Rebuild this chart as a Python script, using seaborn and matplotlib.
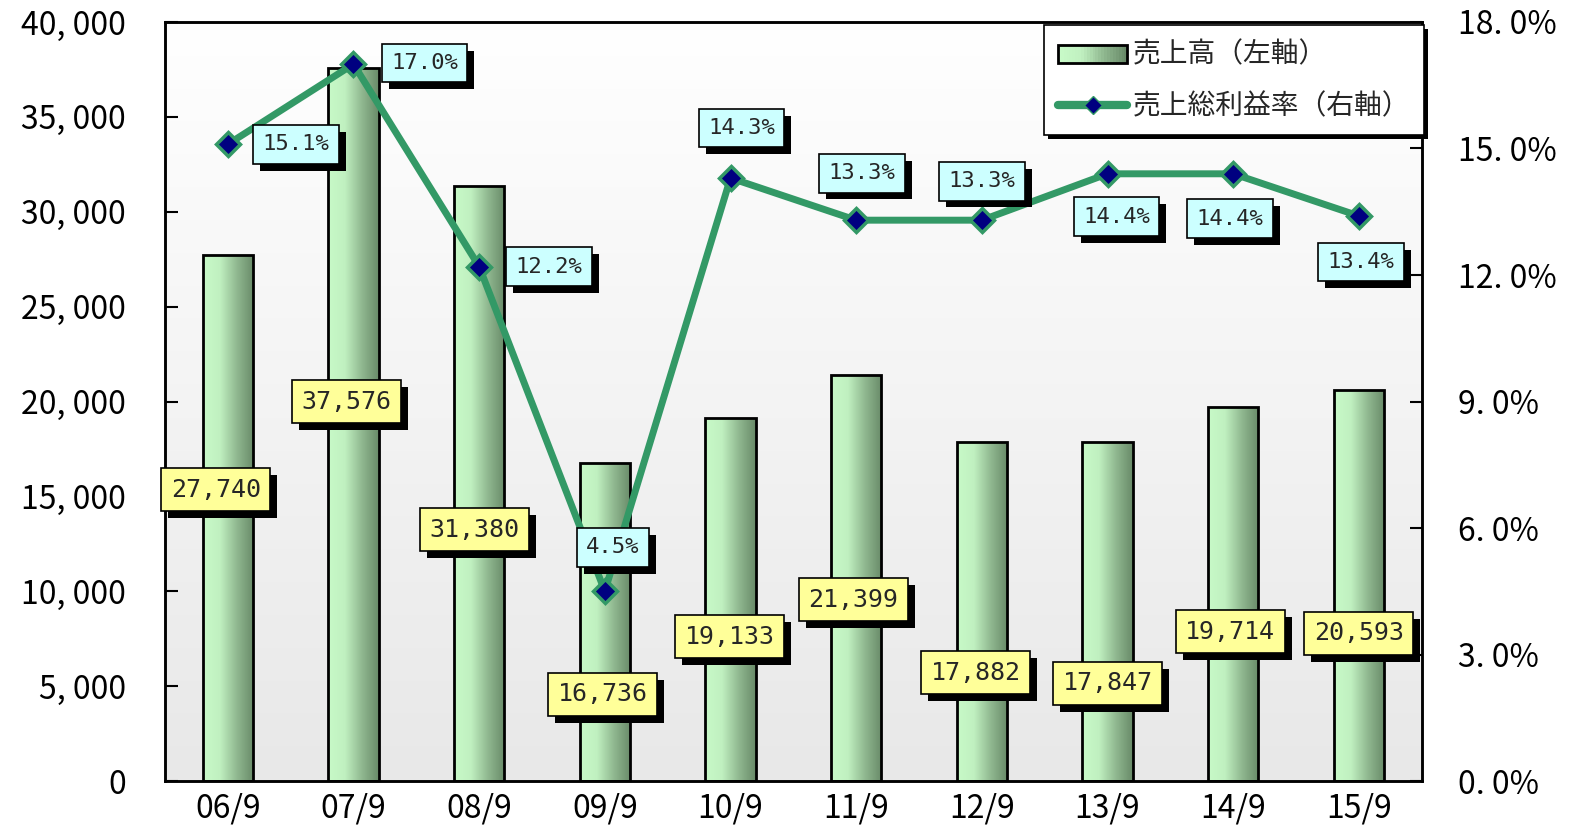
import numpy as np
import pandas as pd
import matplotlib
matplotlib.use("Agg")
import matplotlib.pyplot as plt
import matplotlib.patheffects as pe
from matplotlib.lines import Line2D
from matplotlib.patches import Patch, Rectangle
from matplotlib.legend_handler import HandlerBase
from matplotlib.colors import LinearSegmentedColormap
from matplotlib.ticker import FixedLocator, FuncFormatter
import seaborn as sns

# --- data ---
periods = ['06/9', '07/9', '08/9', '09/9', '10/9', '11/9', '12/9', '13/9', '14/9', '15/9']
sales = [27740, 37576, 31380, 16736, 19133, 21399, 17882, 17847, 19714, 20593]
margin = [15.1, 17.0, 12.2, 4.5, 14.3, 13.3, 13.3, 14.4, 14.4, 13.4]

# label offsets (pixels, y up) from bar top / line marker
sales_lbl_off = [(-12, -235), (-7, -334), (-5, -344), (-2, -231), (-1, -219),
                 (-3, -225), (-6, -231), (0, -241), (-3, -225), (0, -243)]
margin_lbl_off = [(68, 0), (71, 1), (70, 0), (8, 44), (11, 50),
                  (6, 47), (0, 39), (9, -43), (-3, -45), (2, -46)]

df = pd.DataFrame({'period': periods, 'sales': sales, 'margin': margin})

sns.set_theme(style="white")
plt.rcParams['font.family'] = ['Noto Sans CJK JP', 'DejaVu Sans']

LINE_C = '#339966'
bar_cm = LinearSegmentedColormap.from_list('bar', ['#c8fac8', '#c0f0c0', '#90b890', '#688a68'])


class HandlerGradient(HandlerBase):
    def create_artists(self, legend, orig, xd, yd, w, h, fontsize, trans):
        arts = []
        n = 24
        for k in range(n):
            arts.append(Rectangle((xd + w * k / n, yd), w / n + 0.3, h,
                                  facecolor=bar_cm(k / (n - 1)), edgecolor='none',
                                  transform=trans))
        arts.append(Rectangle((xd, yd), w, h, facecolor='none', edgecolor='black',
                              linewidth=2, transform=trans))
        return arts


fig = plt.figure(figsize=(15.71, 8.33), dpi=100)
ax = fig.add_axes([0.105, 0.0624, 0.8, 0.9112])

# plot-area gradient background
bg = LinearSegmentedColormap.from_list('bg', ['#e8e8e8', '#ffffff'])
ax.imshow(np.linspace(0, 1, 256).reshape(-1, 1), cmap=bg, origin='lower',
          extent=[0, 1, 0, 1], transform=ax.transAxes, aspect='auto', zorder=0)

sns.barplot(data=df, x='period', y='sales', ax=ax, width=0.4,
            color='#a8d8a8', edgecolor='black', linewidth=2, zorder=2)

# bar gradient fill
grad = np.linspace(0, 1, 256).reshape(1, -1)
for p in ax.patches:
    x0, y0 = p.get_x(), p.get_y()
    w, h = p.get_width(), p.get_height()
    im = ax.imshow(grad, cmap=bar_cm, extent=[x0, x0 + w, y0, y0 + h],
                   aspect='auto', zorder=2.1)
    im.set_clip_path(p)
    p.set_facecolor('none')
    p.set_zorder(2.2)
ax.set_xlim(-0.5, len(periods) - 0.5)
ax.set_ylim(0, 40000)

ax2 = ax.twinx()
ax2.set_ylim(0, 18)
pos = np.arange(len(periods))
sns.lineplot(x=pos, y=df['margin'], ax=ax2, color=LINE_C, linewidth=5,
             marker='D', markersize=12, markerfacecolor='#000080',
             markeredgecolor=LINE_C, markeredgewidth=2.5, zorder=3)
ax2.set_xlim(-0.5, len(periods) - 0.5)
ax2.set_ylabel('')

shadow = [pe.withSimplePatchShadow(offset=(5, -5), shadow_rgbFace='black', alpha=1)]

for i, (v, off) in enumerate(zip(sales, sales_lbl_off)):
    ax2.annotate(f"{v:,}", xy=(i, v / 40000 * 18), xytext=off,
                 textcoords='offset pixels', ha='center', va='center',
                 fontsize=18, family='DejaVu Sans Mono', zorder=5,
                 bbox=dict(boxstyle='square,pad=0.38', facecolor='#ffff99',
                           edgecolor='black', linewidth=1.2, path_effects=shadow))

for i, (v, off) in enumerate(zip(margin, margin_lbl_off)):
    ax2.annotate(f"{v:.1f}%", xy=(i, v), xytext=off,
                 textcoords='offset pixels', ha='center', va='center',
                 fontsize=16, family='DejaVu Sans Mono', zorder=5,
                 bbox=dict(boxstyle='square,pad=0.42', facecolor='#ccffff',
                           edgecolor='black', linewidth=1.2, path_effects=shadow))

# axes styling
for a in (ax, ax2):
    for s in a.spines.values():
        s.set_color('black')
        s.set_linewidth(1.8)

ax.set_xlabel('')
ax.set_ylabel('')
ax.yaxis.set_major_locator(FixedLocator(np.arange(0, 40001, 5000)))
ax.yaxis.set_major_formatter(FuncFormatter(lambda v, p: f"{int(v):,}".replace(',', ', ')))
ax2.yaxis.set_major_locator(FixedLocator(np.arange(0, 18.1, 3)))
ax2.yaxis.set_major_formatter(FuncFormatter(lambda v, p: f"{v:.1f}%".replace('.', '. ')))

ax.tick_params(axis='y', direction='in', length=9, width=1.5, labelsize=23, pad=28, colors='black')
ax2.tick_params(axis='y', direction='in', length=9, width=1.5, labelsize=23, pad=26, colors='black')
ax.set_xticks(pos)
ax.set_xticklabels(periods)
ax.tick_params(axis='x', length=0, labelsize=23, pad=8, colors='black')
ax.set_xticks(np.arange(0.5, len(periods) - 0.5, 1), minor=True)
ax.tick_params(axis='x', which='minor', direction='in', length=7, width=1.5, color='black')
ax2.tick_params(axis='x', which='both', length=0)

# legend
handles = [Patch(facecolor='#a9dca9', edgecolor='black', linewidth=2),
           Line2D([], [], color=LINE_C, linewidth=6, marker='D', markersize=9,
                  markerfacecolor='#000080', markeredgecolor=LINE_C)]
leg = ax2.legend(handles, ['売上高（左軸）', '売上総利益率（右軸）'],
                 handler_map={Patch: HandlerGradient()},
                 loc='upper right', bbox_to_anchor=(1.002, 0.996), borderaxespad=0,
                 fontsize=20, frameon=True, fancybox=False, framealpha=1,
                 handlelength=2.5, handleheight=0.6, labelspacing=0.8,
                 borderpad=0.5, handletextpad=0.2)
leg.get_frame().set_edgecolor('black')
leg.get_frame().set_linewidth(1.2)
leg.get_frame().set_path_effects([pe.withSimplePatchShadow(offset=(3, -3), shadow_rgbFace='black', alpha=1)])
leg.set_zorder(6)

fig.savefig('out.png', dpi=100)
